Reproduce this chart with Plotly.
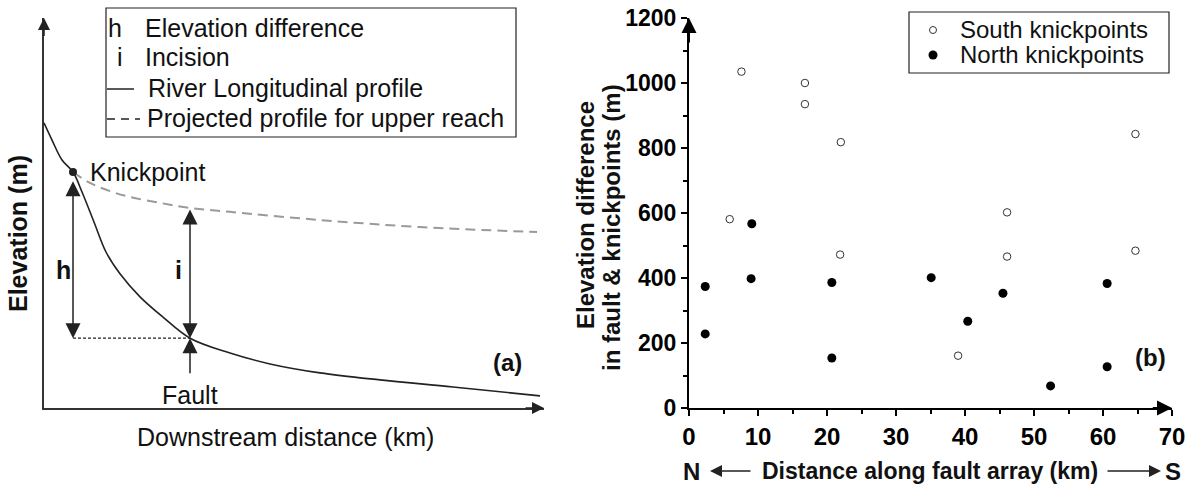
import plotly.graph_objects as go

W, H = 1194, 489
FONT = "Liberation Sans, Arial, sans-serif"

# ---------------- Panel (a): schematic profile (arbitrary units) ----------------
profile_x = [0, 1.6, 3.6, 5.8, 7.6, 10.0, 12.4, 15.2, 19.2, 23.8, 29.2, 37.2, 45.2, 55.2, 67.2, 81.8, 99.2]
profile_y = [73.1, 68.7, 63.6, 60.5, 55.4, 47.7, 40.0, 34.4, 28.5, 23.3, 17.9, 14.1, 11.3, 9.0, 7.2, 5.4, 3.1]
projected_x = [5.8, 9.2, 13.2, 17.2, 23.2, 29.2, 37.2, 55.2, 75.2, 98.6]
projected_y = [60.5, 57.7, 55.6, 54.1, 52.6, 51.3, 50.3, 48.2, 46.4, 45.1]
knick_x, knick_y = 5.8, 60.5
fault_x, fault_y = 29.2, 17.9
incision_top = projected_y[projected_x.index(fault_x)]

# ---------------- Panel (b): knickpoint elevation differences ----------------
south_x = [5.9, 7.6, 16.8, 16.8, 22.0, 21.9, 39.0, 46.1, 46.1, 64.7, 64.7]
south_y = [581, 1035, 1000, 935, 818, 472, 161, 602, 466, 843, 484]
north_x = [2.35, 2.35, 9.1, 9.0, 20.7, 20.7, 35.1, 40.4, 45.5, 52.4, 60.6, 60.6]
north_y = [374, 228, 567, 398, 386, 154, 401, 267, 353, 68, 383, 127]
x_ticks = [0, 10, 20, 30, 40, 50, 60, 70]
y_ticks = [0, 200, 400, 600, 800, 1000, 1200]


def px(x):
    return x / W


def py(y):
    return 1 - y / H


fig = go.Figure()

# panel (a) traces
fig.add_trace(go.Scatter(x=projected_x, y=projected_y, mode="lines", line=dict(color="#9a9a9a", width=2, dash="10px,6px", shape="spline"),
                         xaxis="x", yaxis="y", showlegend=False, hoverinfo="skip"))
fig.add_trace(go.Scatter(x=profile_x, y=profile_y, mode="lines", line=dict(color="#222222", width=1.6, shape="spline"),
                         xaxis="x", yaxis="y", showlegend=False, hoverinfo="skip"))
fig.add_trace(go.Scatter(x=[knick_x, fault_x], y=[fault_y, fault_y], mode="lines",
                         line=dict(color="#222222", width=1.2, dash="3px,2px"), xaxis="x", yaxis="y", showlegend=False, hoverinfo="skip"))
fig.add_trace(go.Scatter(x=[knick_x], y=[knick_y], mode="markers", marker=dict(color="#222222", size=8),
                         xaxis="x", yaxis="y", showlegend=False, hoverinfo="skip"))

# panel (b) traces
fig.add_trace(go.Scatter(x=south_x, y=south_y, mode="markers", name="South knickpoints",
                         marker=dict(symbol="circle", size=7.5, color="white", line=dict(color="#333333", width=1)),
                         xaxis="x2", yaxis="y2", showlegend=False, cliponaxis=False))
fig.add_trace(go.Scatter(x=north_x, y=north_y, mode="markers", name="North knickpoints",
                         marker=dict(symbol="circle", size=9, color="black"),
                         xaxis="x2", yaxis="y2", showlegend=False, cliponaxis=False))

ydom = [py(408), py(18)]
fig.update_layout(
    width=W, height=H, margin=dict(l=0, r=0, t=0, b=0, pad=0, autoexpand=False), autosize=False,
    paper_bgcolor="white", plot_bgcolor="white",
    font=dict(family=FONT, color="#111111", size=25),
    xaxis=dict(domain=[px(44), px(544)], range=[0, 100], showgrid=False, zeroline=False, showticklabels=False,
               showline=True, linecolor="#333333", linewidth=1.5, ticks="", anchor="y", automargin=False),
    yaxis=dict(domain=ydom, range=[0, 100], showgrid=False, zeroline=False, showticklabels=False,
               showline=True, linecolor="#333333", linewidth=1.5, ticks="", anchor="x", automargin=False),
    xaxis2=dict(domain=[px(689), px(1172)], range=[0, 70], showgrid=False, zeroline=False, anchor="y2", automargin=False,
                showline=True, linecolor="black", linewidth=2, ticks="outside", ticklen=6, tickwidth=1.5, tickcolor="black",
                tickvals=x_ticks, ticktext=[str(v) for v in x_ticks],
                minor=dict(dtick=5, ticks="outside", ticklen=4, tickwidth=1.5, tickcolor="black"),
                tickfont=dict(family=FONT, size=24, color="black", weight="bold")),
    yaxis2=dict(domain=ydom, range=[0, 1200], showgrid=False, zeroline=False, anchor="x2", automargin=False,
                showline=True, linecolor="black", linewidth=2, ticks="outside", ticklen=6, tickwidth=1.5, tickcolor="black",
                tickvals=y_ticks, ticktext=[str(v) for v in y_ticks],
                minor=dict(dtick=100, ticks="outside", ticklen=4, tickwidth=1.5, tickcolor="black"),
                tickfont=dict(family=FONT, size=23, color="black", weight="bold")),
)

ann = []
shapes = []


def arrow(x, y, ax, ay, xref, yref, side="end", width=1.5, size=1.0, color="#222222"):
    ann.append(dict(x=x, y=y, ax=ax, ay=ay, xref=xref, yref=yref, axref=xref, ayref=yref, text="", showarrow=True,
                    arrowhead=2, startarrowhead=2, arrowside=side, arrowsize=size, startarrowsize=size,
                    arrowwidth=width, arrowcolor=color, standoff=0, startstandoff=0))


def text(x, y, s, size=25, bold=False, xanchor="center", angle=0, color="#111111"):
    ann.append(dict(x=px(x), y=py(y), xref="paper", yref="paper", text=s, showarrow=False, xanchor=xanchor,
                    yanchor="middle", textangle=angle,
                    font=dict(family=FONT, size=size, color=color, weight="bold" if bold else "normal")))


# ---- panel (a) axis arrows
arrow(100, 0, 96, 0, "x", "y", size=1.6)
arrow(0, 100, 0, 95, "x", "y", size=1.6)
# h (double-headed), i (double-headed), fault arrow
arrow(knick_x, fault_y, knick_x, knick_y - 2, "x", "y", side="end+start", size=2.0)
arrow(fault_x, fault_y, fault_x, incision_top, "x", "y", side="end+start", size=2.0)
arrow(fault_x, fault_y, fault_x, 8.5, "x", "y", size=2.0)

# panel (a) texts
text(18, 234, "Elevation (m)", size=25, bold=True, angle=-90)
text(285, 437, "Downstream distance (km)", size=25)
text(88, 172, "Knickpoint", size=25, xanchor="left")
text(190, 395, "Fault", size=25)
text(63, 270, "h", size=25, bold=True)
text(178, 270, "i", size=25, bold=True)
text(507, 362, "(a)", size=24, bold=True)

# panel (a) legend box
shapes.append(dict(type="rect", xref="paper", yref="paper", x0=px(106), x1=px(516), y0=py(137), y1=py(8),
                   line=dict(color="#222222", width=1.2), fillcolor="rgba(0,0,0,0)"))
text(115, 28, "h", size=25)
text(143, 28, "Elevation difference", size=25, xanchor="left")
text(120, 57, "i", size=25)
text(143, 57, "Incision", size=25, xanchor="left")
shapes.append(dict(type="line", xref="paper", yref="paper", x0=px(107), x1=px(134), y0=py(89), y1=py(89),
                   line=dict(color="#222222", width=1.5)))
text(146, 88, "River Longitudinal profile", size=25, xanchor="left")
shapes.append(dict(type="line", xref="paper", yref="paper", x0=px(107), x1=px(140), y0=py(119), y1=py(119),
                   line=dict(color="#222222", width=1.5, dash="8px,6px")))
text(145, 118, "Projected profile for upper reach", size=25, xanchor="left")

# ---- panel (b) axis arrows
arrow(70, 0, 67, 0, "x2", "y2", width=2, size=1.5, color="black")
arrow(0, 1200, 0, 1120, "x2", "y2", width=2, size=1.5, color="black")

# panel (b) texts
text(585, 215, "Elevation difference", size=24, bold=True, angle=-90)
text(611, 228, "in fault &amp; knickpoints (m)", size=24, bold=True, angle=-90)
text(1150, 357, "(b)", size=24, bold=True)
text(691, 471, "N", size=24, bold=True)
text(1173, 471, "S", size=24, bold=True)
text(930, 471, "Distance along fault array (km)", size=23, bold=True)
ann.append(dict(x=px(710), y=py(471), ax=42, ay=0, xref="paper", yref="paper", axref="pixel", ayref="pixel",
                text="", showarrow=True, arrowhead=2, arrowsize=1.6, arrowwidth=1.5, arrowcolor="#222222", standoff=0, startstandoff=0))
ann.append(dict(x=px(1161), y=py(471), ax=-55, ay=0, xref="paper", yref="paper", axref="pixel", ayref="pixel",
                text="", showarrow=True, arrowhead=2, arrowsize=1.6, arrowwidth=1.5, arrowcolor="#222222", standoff=0, startstandoff=0))

# panel (b) legend
shapes.append(dict(type="rect", xref="paper", yref="paper", x0=px(909), x1=px(1169), y0=py(73), y1=py(12),
                   line=dict(color="#222222", width=1.2), fillcolor="white"))
shapes.append(dict(type="circle", xref="paper", yref="paper", xsizemode="pixel", ysizemode="pixel",
                   xanchor=px(933), yanchor=py(30), x0=-3.5, x1=3.5, y0=-3.5, y1=3.5,
                   line=dict(color="#333333", width=1), fillcolor="white"))
shapes.append(dict(type="circle", xref="paper", yref="paper", xsizemode="pixel", ysizemode="pixel",
                   xanchor=px(933), yanchor=py(55), x0=-4.5, x1=4.5, y0=-4.5, y1=4.5,
                   line=dict(color="black", width=0), fillcolor="black"))
text(958, 29, "South knickpoints", size=24, xanchor="left")
text(958, 55, "North knickpoints", size=24, xanchor="left")

fig.update_layout(annotations=ann, shapes=shapes)
fig.write_html("out.html")
